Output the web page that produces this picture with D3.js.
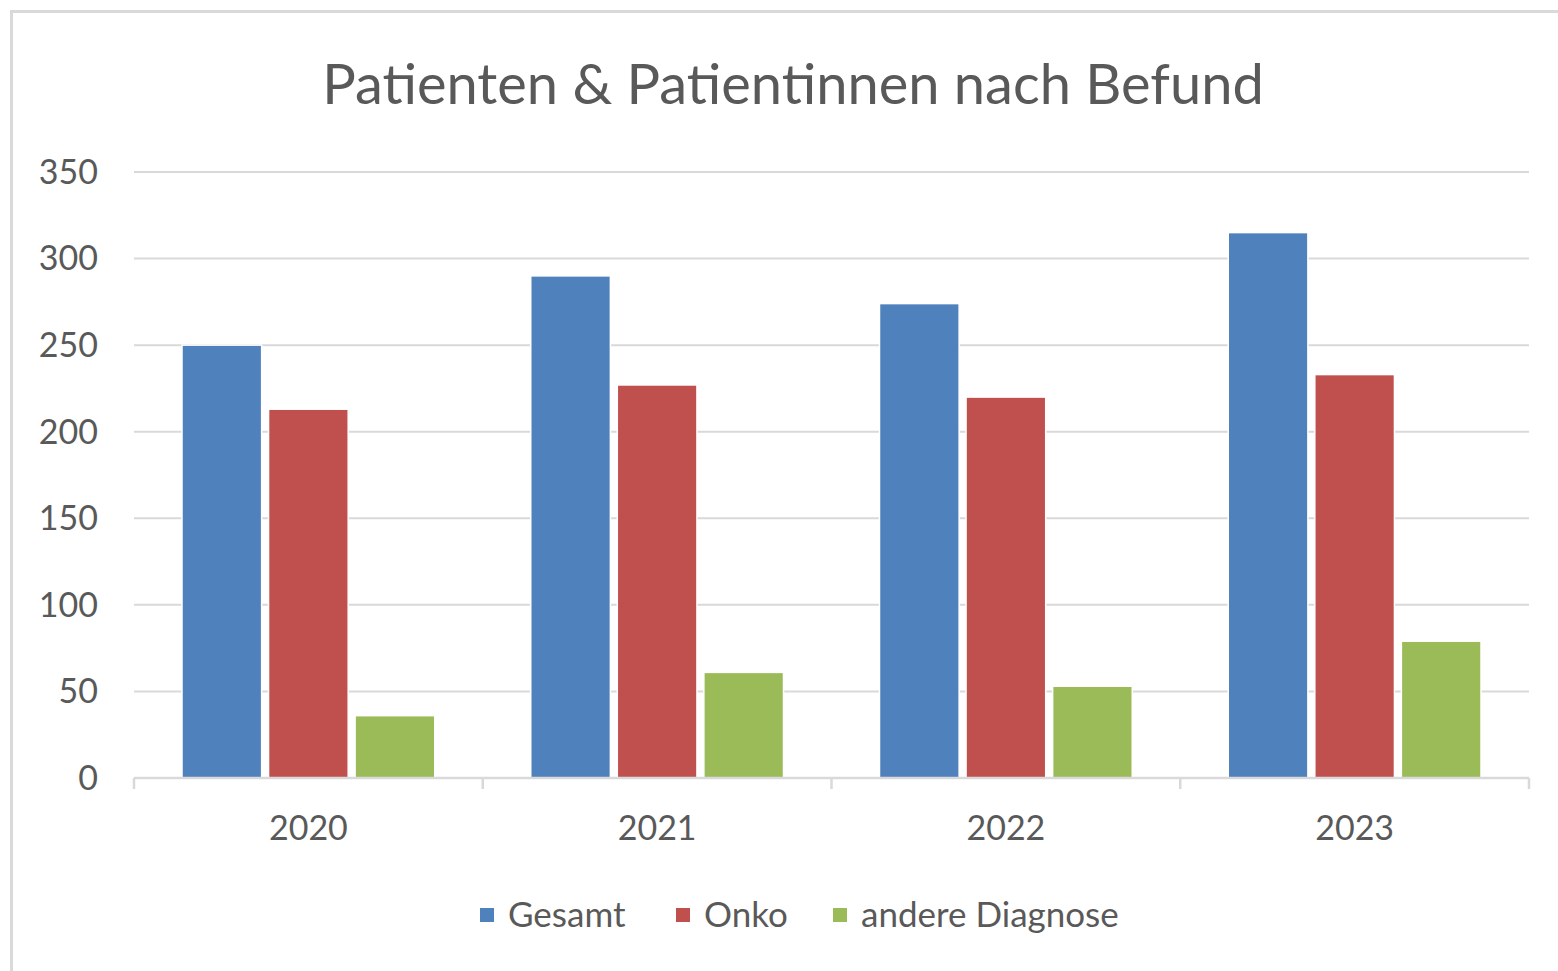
<!DOCTYPE html>
<html>
<head>
<meta charset="utf-8">
<script src="https://cdn.jsdelivr.net/npm/d3@7"></script>
<style>
  body { margin: 0; background: #fff; }
  svg { display: block; }
  text { font-family: Lato, "Open Sans", sans-serif; fill: #595959; }
</style>
</head>
<body>
<script>
var years = ["2020", "2021", "2022", "2023"];
var seriesNames = ["Gesamt", "Onko", "andere Diagnose"];
var gesamt = [250, 290, 274, 315];
var onko = [213, 227, 220, 233];
var andere = [36, 61, 53, 79];
var yTicks = [0, 50, 100, 150, 200, 250, 300, 350];
var colors = ["#4f81bd", "#c0504d", "#9bbb59"];

var width = 1558, height = 971;
var margin = {left: 134, right: 29, top: 172, bottom: 193};

var data = years.map(function(y, i){
  return {year: y, values: [gesamt[i], onko[i], andere[i]]};
});

var svg = d3.select("body").append("svg").attr("width", width).attr("height", height);

// chart frame
svg.append("rect")
  .attr("x", 11.5).attr("y", 11.5)
  .attr("width", 1600).attr("height", 1000)
  .attr("fill", "none").attr("stroke", "#d9d9d9").attr("stroke-width", 3);

svg.append("text")
  .attr("x", 793).attr("y", 104)
  .attr("text-anchor", "middle")
  .style("font-size", "56px")
  .text("Patienten & Patientinnen nach Befund");

var plotW = width - margin.left - margin.right;
var plotH = height - margin.top - margin.bottom;
var g = svg.append("g").attr("transform", "translate(" + margin.left + "," + margin.top + ")");

var x0 = d3.scaleBand().domain(years).range([0, plotW]).padding(0);
var x1 = d3.scaleBand().domain(d3.range(3))
  .range([48, x0.bandwidth() - 48]).paddingInner(0.08);
var y = d3.scaleLinear().domain([0, 350]).range([plotH, 0]);

// gridlines
g.selectAll(".grid").data(yTicks.slice(1)).enter().append("line")
  .attr("x1", 0).attr("x2", plotW)
  .attr("y1", function(d){ return y(d); }).attr("y2", function(d){ return y(d); })
  .attr("stroke", "#d9d9d9").attr("stroke-width", 2);

// y labels
g.selectAll(".ylab").data(yTicks).enter().append("text")
  .attr("x", -36).attr("y", function(d){ return y(d); })
  .attr("dy", "0.35em").attr("text-anchor", "end")
  .style("font-size", "34px")
  .text(function(d){ return d; });

// bars
var groups = g.selectAll(".yr").data(data).enter().append("g")
  .attr("transform", function(d){ return "translate(" + x0(d.year) + ",0)"; });
groups.selectAll("rect").data(function(d){ return d.values; }).enter().append("rect")
  .attr("x", function(d, i){ return x1(i); })
  .attr("width", x1.bandwidth())
  .attr("y", function(d){ return y(d); })
  .attr("height", function(d){ return plotH - y(d); })
  .attr("fill", function(d, i){ return colors[i]; })
  .attr("stroke", "#fff").attr("stroke-width", 1.5);

// x axis line and ticks at band boundaries
g.append("line").attr("x1", 0).attr("x2", plotW)
  .attr("y1", plotH).attr("y2", plotH)
  .attr("stroke", "#d9d9d9").attr("stroke-width", 2.5);
var bounds = years.map(function(d){ return x0(d); }).concat([plotW]);
g.selectAll(".tk").data(bounds).enter().append("line")
  .attr("x1", function(d){ return d; }).attr("x2", function(d){ return d; })
  .attr("y1", plotH).attr("y2", plotH + 11)
  .attr("stroke", "#d9d9d9").attr("stroke-width", 2.5);

var xAxis = g.append("g").attr("transform", "translate(0," + plotH + ")")
  .call(d3.axisBottom(x0).tickSize(0).tickPadding(0));
xAxis.select(".domain").remove();
xAxis.selectAll("text")
  .attr("y", 62).attr("dy", 0)
  .style("font-size", "34px").style("font-family", "Lato, 'Open Sans', sans-serif")
  .attr("fill", "#595959");

// legend
var legendX = [480, 676, 833];
var leg = svg.selectAll(".leg").data(seriesNames).enter().append("g")
  .attr("transform", function(d, i){ return "translate(" + legendX[i] + ",908)"; });
leg.append("rect").attr("width", 14).attr("height", 14)
  .attr("fill", function(d, i){ return colors[i]; });
leg.append("text").attr("x", 28).attr("y", 7).attr("dy", "0.35em")
  .style("font-size", "35px")
  .text(function(d){ return d; });
</script>
</body>
</html>
